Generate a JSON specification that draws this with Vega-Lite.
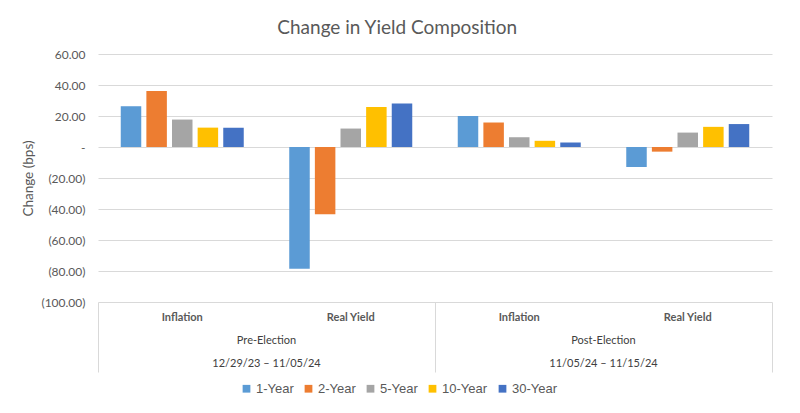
{
  "$schema": "https://vega.github.io/schema/vega-lite/v6.json",
  "width": 674,
  "height": 248,
  "autosize": {"type": "none"},
  "padding": {"left": 98, "top": 54, "right": 28, "bottom": 111},
  "background": "white",
  "title": {"text": "Change in Yield Composition", "fontSize": 19, "font": "Lato", "fontWeight": "normal", "color": "#595959", "anchor": "middle", "frame": "bounds", "offset": 10},
  "config": {"view": {"stroke": null}, "font": "Lato"},
  "data": {"values": [
    {"cat": "Pre-Election|Inflation", "period": "Pre-Election", "type": "Inflation", "tenor": "1-Year", "value": 26.3},
    {"cat": "Pre-Election|Inflation", "period": "Pre-Election", "type": "Inflation", "tenor": "2-Year", "value": 36.1},
    {"cat": "Pre-Election|Inflation", "period": "Pre-Election", "type": "Inflation", "tenor": "5-Year", "value": 17.7},
    {"cat": "Pre-Election|Inflation", "period": "Pre-Election", "type": "Inflation", "tenor": "10-Year", "value": 12.5},
    {"cat": "Pre-Election|Inflation", "period": "Pre-Election", "type": "Inflation", "tenor": "30-Year", "value": 12.5},
    {"cat": "Pre-Election|Real Yield", "period": "Pre-Election", "type": "Real Yield", "tenor": "1-Year", "value": -78.5},
    {"cat": "Pre-Election|Real Yield", "period": "Pre-Election", "type": "Real Yield", "tenor": "2-Year", "value": -43.4},
    {"cat": "Pre-Election|Real Yield", "period": "Pre-Election", "type": "Real Yield", "tenor": "5-Year", "value": 11.9},
    {"cat": "Pre-Election|Real Yield", "period": "Pre-Election", "type": "Real Yield", "tenor": "10-Year", "value": 25.8},
    {"cat": "Pre-Election|Real Yield", "period": "Pre-Election", "type": "Real Yield", "tenor": "30-Year", "value": 28.0},
    {"cat": "Post-Election|Inflation", "period": "Post-Election", "type": "Inflation", "tenor": "1-Year", "value": 20.0},
    {"cat": "Post-Election|Inflation", "period": "Post-Election", "type": "Inflation", "tenor": "2-Year", "value": 15.8},
    {"cat": "Post-Election|Inflation", "period": "Post-Election", "type": "Inflation", "tenor": "5-Year", "value": 6.3},
    {"cat": "Post-Election|Inflation", "period": "Post-Election", "type": "Inflation", "tenor": "10-Year", "value": 4.0},
    {"cat": "Post-Election|Inflation", "period": "Post-Election", "type": "Inflation", "tenor": "30-Year", "value": 2.9},
    {"cat": "Post-Election|Real Yield", "period": "Post-Election", "type": "Real Yield", "tenor": "1-Year", "value": -12.9},
    {"cat": "Post-Election|Real Yield", "period": "Post-Election", "type": "Real Yield", "tenor": "2-Year", "value": -3.0},
    {"cat": "Post-Election|Real Yield", "period": "Post-Election", "type": "Real Yield", "tenor": "5-Year", "value": 9.3},
    {"cat": "Post-Election|Real Yield", "period": "Post-Election", "type": "Real Yield", "tenor": "10-Year", "value": 13.0},
    {"cat": "Post-Election|Real Yield", "period": "Post-Election", "type": "Real Yield", "tenor": "30-Year", "value": 14.8}
  ]},
  "layer": [
    {
      "mark": {"type": "bar"},
      "encoding": {
        "x": {"field": "cat", "type": "nominal", "sort": null,
          "scale": {"paddingInner": 0.27, "paddingOuter": 0.135},
          "axis": {"orient": "bottom", "title": null, "labelExpr": "split(datum.value, '|')[1]", "domain": false, "ticks": false, "grid": false, "labelAngle": 0, "labelFontSize": 11, "labelFontWeight": "bold", "labelColor": "#595959", "labelPadding": 9}},
        "xOffset": {"field": "tenor", "type": "nominal", "sort": ["1-Year", "2-Year", "5-Year", "10-Year", "30-Year"], "scale": {"paddingInner": 0.2, "paddingOuter": 0}},
        "y": {"field": "value", "type": "quantitative", "scale": {"domain": [-100, 60], "nice": false, "zero": true},
          "axis": {"values": [-100, -80, -60, -40, -20, 0, 20, 40, 60], "title": "Change (bps)", "titleFontSize": 13.5, "titleFontWeight": "normal", "titleColor": "#595959", "titlePadding": 5,
            "labelExpr": "datum.value == 0 ? '-\u00a0\u00a0\u00a0\u00a0' : (datum.value < 0 ? '(' + format(-datum.value, '.2f') + ')' : format(datum.value, '.2f') + '\u00a0')",
            "labelFontSize": 12, "labelColor": "#595959", "labelPadding": 13, "domain": false, "ticks": false, "gridColor": "#d9d9d9", "gridWidth": 1}},
        "color": {"field": "tenor", "type": "nominal", "sort": ["1-Year", "2-Year", "5-Year", "10-Year", "30-Year"],
          "scale": {"domain": ["1-Year", "2-Year", "5-Year", "10-Year", "30-Year"], "range": ["#5B9BD5", "#ED7D31", "#A5A5A5", "#FFC000", "#4472C4"]},
          "legend": {"orient": "none", "legendX": 142, "legendY": 328, "direction": "horizontal", "title": null, "symbolType": "square", "symbolSize": 60, "symbolStrokeWidth": 0, "labelFontSize": 13, "labelFont": "Liberation Sans", "labelColor": "#595959", "columnPadding": 8, "labelOffset": 3}}
      }
    },
    {
      "mark": {"type": "rule", "opacity": 0},
      "encoding": {
        "x": {"field": "period", "type": "nominal", "sort": null,
          "scale": {"type": "band", "paddingInner": 0, "paddingOuter": 0},
          "axis": {"orient": "bottom", "title": null, "bandPosition": 1, "tickExtra": true, "tickSize": 70, "tickColor": "#d9d9d9", "tickWidth": 1, "domain": false, "grid": false, "labelAngle": 0,
            "labelExpr": "datum.value == 'Pre-Election' ? ['Pre-Election', '12/29/23 – 11/05/24'] : (datum.value == 'Post-Election' ? ['Post-Election', '11/05/24 – 11/15/24'] : '')",
            "labelFontSize": 11, "labelColor": "#404040", "labelPadding": -38, "labelLineHeight": 23}}
      }
    }
  ],
  "resolve": {"scale": {"x": "independent"}, "axis": {"x": "independent"}}
}
